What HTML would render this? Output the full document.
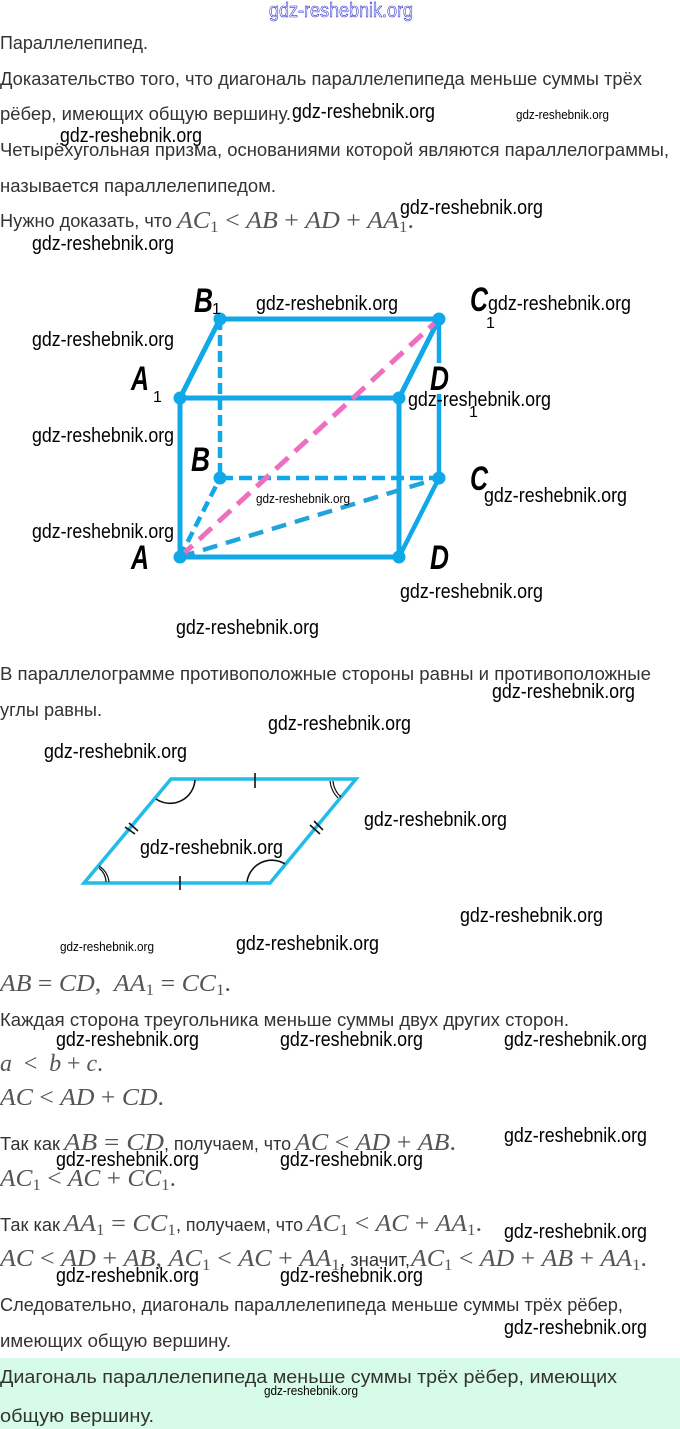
<!DOCTYPE html>
<html lang="ru"><head><meta charset="utf-8">
<style>
html,body{margin:0;padding:0;background:#fff;width:680px;height:1429px;overflow:hidden}
svg{display:block}
.t{font:18px "Liberation Sans",sans-serif;fill:#333}
.m{font:italic 24px "Liberation Serif",serif;fill:#555}
.m tspan[font-size]{font-size:16px}
.w{font:20px "Liberation Sans",sans-serif;fill:#000;transform:translateY(1px)}
.s{font:13px "Liberation Sans",sans-serif;fill:#000}
.l{font:italic bold 34px "Liberation Sans",sans-serif;fill:#000}
.i{font:16px "Liberation Sans",sans-serif;fill:#000}
</style></head><body>
<svg width="680" height="1429" viewBox="0 0 680 1429" xmlns="http://www.w3.org/2000/svg">
<rect width="680" height="1429" fill="#fff"/>
<rect y="1358" width="680" height="71" fill="#d6fbe7"/>

<text x="269" y="17" font-family="Liberation Sans" font-size="20" fill="#fff" stroke="#2d2dd0" stroke-width=".6" textLength="144" lengthAdjust="spacingAndGlyphs">gdz-reshebnik.org</text>

<text class="t" x="0" y="49" textLength="148" lengthAdjust="spacingAndGlyphs">Параллелепипед.</text>
<text class="t" x="0" y="85" textLength="642" lengthAdjust="spacingAndGlyphs">Доказательство того, что диагональ параллелепипеда меньше суммы трёх</text>
<text class="t" x="0" y="120" textLength="291" lengthAdjust="spacingAndGlyphs">рёбер, имеющих общую вершину.</text>
<text class="t" x="0" y="156" textLength="669" lengthAdjust="spacingAndGlyphs">Четырёхугольная призма, основаниями которой являются параллелограммы,</text>
<text class="t" x="0" y="192" textLength="276" lengthAdjust="spacingAndGlyphs">называется параллелепипедом.</text>
<text class="t" x="0" y="227" textLength="172" lengthAdjust="spacingAndGlyphs">Нужно доказать, что</text>
<text class="m" x="177" y="228" textLength="237" lengthAdjust="spacingAndGlyphs">AC<tspan font-size="14" dy="4" font-style="normal">1</tspan><tspan dy="-4" font-style="normal"> &lt; </tspan>AB<tspan font-style="normal"> + </tspan>AD<tspan font-style="normal"> + </tspan>AA<tspan font-size="14" dy="4" font-style="normal">1</tspan><tspan dy="-4" font-style="normal">.</tspan></text>

<!-- parallelepiped -->
<g fill="none" stroke="#10a8e8" stroke-width="5">
<path d="M180 398V557H399V398H180L220 319H439L399 398"/>
<path d="M439 319V478" stroke-width="4.5"/>
<path d="M399 557L439 478" stroke-width="4.5"/>
<path d="M220 319V478" stroke-dasharray="11 5" stroke-width="4.5"/>
<path d="M220 478H439" stroke-dasharray="13 6" stroke-width="4.5"/>
<path d="M180 557L220 478" stroke-dasharray="11 6" stroke-width="4.5"/>
<path d="M180 557L439 478" stroke-dasharray="15 9" stroke-width="4.5" stroke="#20a4dc"/>
<path d="M180 557L439 319" stroke="#ee6fc0" stroke-dasharray="17 9" stroke-width="5"/>
</g>
<g fill="#10a8e8">
<circle cx="180" cy="398" r="6.5"/><circle cx="220" cy="319" r="6.5"/><circle cx="439" cy="319" r="6.5"/><circle cx="399" cy="398" r="6.5"/>
<circle cx="220" cy="478" r="6.5"/><circle cx="439" cy="478" r="6.5"/><circle cx="180" cy="557" r="6.5"/><circle cx="399" cy="557" r="6.5"/>
</g>
<rect x="428" y="363" width="24" height="31" fill="#fff"/>
<text class="l" x="194" y="312" textLength="19" lengthAdjust="spacingAndGlyphs">B</text><text class="i" x="212" y="314">1</text>
<text class="l" x="470" y="311" textLength="18" lengthAdjust="spacingAndGlyphs">C</text><text class="i" x="486" y="328">1</text>
<text class="l" x="131" y="390" textLength="18" lengthAdjust="spacingAndGlyphs">A</text><text class="i" x="153" y="402">1</text>
<text class="l" x="430" y="390" textLength="19" lengthAdjust="spacingAndGlyphs">D</text><text class="i" x="469" y="417">1</text>
<text class="l" x="191" y="471" textLength="19" lengthAdjust="spacingAndGlyphs">B</text>
<text class="l" x="470" y="490" textLength="18" lengthAdjust="spacingAndGlyphs">C</text>
<text class="l" x="131" y="569" textLength="18" lengthAdjust="spacingAndGlyphs">A</text>
<text class="l" x="430" y="569" textLength="19" lengthAdjust="spacingAndGlyphs">D</text>

<text class="t" x="0" y="680" textLength="651" lengthAdjust="spacingAndGlyphs">В параллелограмме противоположные стороны равны и противоположные</text>
<text class="t" x="0" y="716" textLength="102" lengthAdjust="spacingAndGlyphs">углы равны.</text>

<!-- parallelogram -->
<path d="M84 883L171 779H356L270 883Z" fill="none" stroke="#22bce8" stroke-width="3.5"/>
<g fill="none" stroke="#111" stroke-width="1.6">
<path d="M255 773V788M180 876V890"/>
<path d="M125 827L135 834M129 823L138 831"/>
<path d="M310 825L320 834M314 821L323 830"/>
<path d="M195 780A25 25 0 0 1 156 799"/>
<path d="M247 882A25 25 0 0 1 285 864"/>
<path d="M330 781A28 28 0 0 0 338 798M333 781A24 24 0 0 0 341 797" stroke-width="1.2"/>
<path d="M99 866A22 22 0 0 1 109 882M99 868A19 19 0 0 1 106 882" stroke-width="1.2"/>
</g>

<text class="m" x="0" y="991" textLength="231" lengthAdjust="spacingAndGlyphs">AB<tspan font-style="normal"> = </tspan>CD<tspan font-style="normal">,&#160;&#160;</tspan>AA<tspan font-size="14" dy="4" font-style="normal">1</tspan><tspan dy="-4" font-style="normal"> = </tspan>CC<tspan font-size="14" dy="4" font-style="normal">1</tspan><tspan dy="-4" font-style="normal">.</tspan></text>
<text class="t" x="0" y="1026" textLength="569" lengthAdjust="spacingAndGlyphs">Каждая сторона треугольника меньше суммы двух других сторон.</text>
<text class="m" x="0" y="1071" textLength="103" lengthAdjust="spacingAndGlyphs">a<tspan font-style="normal">&#160;&#160;&lt;&#160;&#160;</tspan>b<tspan font-style="normal"> + </tspan>c<tspan font-style="normal">.</tspan></text>
<text class="m" x="0" y="1105" textLength="164" lengthAdjust="spacingAndGlyphs">AC<tspan font-style="normal"> &lt; </tspan>AD<tspan font-style="normal"> + </tspan>CD<tspan font-style="normal">.</tspan></text>
<text class="t" x="0" y="1150" textLength="60" lengthAdjust="spacingAndGlyphs">Так как</text>
<text class="m" x="64" y="1150" textLength="100" lengthAdjust="spacingAndGlyphs">AB<tspan font-style="normal"> = </tspan>CD</text>
<text class="t" x="164" y="1150" textLength="127" lengthAdjust="spacingAndGlyphs">, получаем, что</text>
<text class="m" x="295" y="1150" textLength="161" lengthAdjust="spacingAndGlyphs">AC<tspan font-style="normal"> &lt; </tspan>AD<tspan font-style="normal"> + </tspan>AB<tspan font-style="normal">.</tspan></text>
<text class="m" x="0" y="1186" textLength="176" lengthAdjust="spacingAndGlyphs">AC<tspan font-size="14" dy="4" font-style="normal">1</tspan><tspan dy="-4" font-style="normal"> &lt; </tspan>AC<tspan font-style="normal"> + </tspan>CC<tspan font-size="14" dy="4" font-style="normal">1</tspan><tspan dy="-4" font-style="normal">.</tspan></text>

<text class="t" x="0" y="1231" textLength="60" lengthAdjust="spacingAndGlyphs">Так как</text>
<text class="m" x="64" y="1231" textLength="112" lengthAdjust="spacingAndGlyphs">AA<tspan font-size="14" dy="4" font-style="normal">1</tspan><tspan dy="-4" font-style="normal"> = </tspan>CC<tspan font-size="14" dy="4" font-style="normal">1</tspan></text>
<text class="t" x="176" y="1231" textLength="127" lengthAdjust="spacingAndGlyphs">, получаем, что</text>
<text class="m" x="307" y="1231" textLength="175" lengthAdjust="spacingAndGlyphs">AC<tspan font-size="14" dy="4" font-style="normal">1</tspan><tspan dy="-4" font-style="normal"> &lt; </tspan>AC<tspan font-style="normal"> + </tspan>AA<tspan font-size="14" dy="4" font-style="normal">1</tspan><tspan dy="-4" font-style="normal">.</tspan></text>
<text class="m" x="0" y="1266" textLength="340" lengthAdjust="spacingAndGlyphs">AC<tspan font-style="normal"> &lt; </tspan>AD<tspan font-style="normal"> + </tspan>AB<tspan font-style="normal">, </tspan>AC<tspan font-size="14" dy="4" font-style="normal">1</tspan><tspan dy="-4" font-style="normal"> &lt; </tspan>AC<tspan font-style="normal"> + </tspan>AA<tspan font-size="14" dy="4" font-style="normal">1</tspan></text>
<text class="t" x="340" y="1266" textLength="70" lengthAdjust="spacingAndGlyphs">, значит,</text>
<text class="m" x="411" y="1266" textLength="236" lengthAdjust="spacingAndGlyphs">AC<tspan font-size="14" dy="4" font-style="normal">1</tspan><tspan dy="-4" font-style="normal"> &lt; </tspan>AD<tspan font-style="normal"> + </tspan>AB<tspan font-style="normal"> + </tspan>AA<tspan font-size="14" dy="4" font-style="normal">1</tspan><tspan dy="-4" font-style="normal">.</tspan></text>
<text class="t" x="0" y="1311" textLength="623" lengthAdjust="spacingAndGlyphs">Следовательно, диагональ параллелепипеда меньше суммы трёх рёбер,</text>
<text class="t" x="0" y="1347" textLength="231" lengthAdjust="spacingAndGlyphs">имеющих общую вершину.</text>
<text class="t" x="0" y="1383" textLength="617" lengthAdjust="spacingAndGlyphs">Диагональ параллелепипеда меньше суммы трёх рёбер, имеющих</text>
<text class="t" x="0" y="1422" textLength="154" lengthAdjust="spacingAndGlyphs">общую вершину.</text>

<!-- watermarks -->
<g class="wm">
<text class="w" x="292" y="117" textLength="143" lengthAdjust="spacingAndGlyphs">gdz-reshebnik.org</text>
<text class="w" x="60" y="141" textLength="142" lengthAdjust="spacingAndGlyphs">gdz-reshebnik.org</text>
<text class="w" x="400" y="213" textLength="143" lengthAdjust="spacingAndGlyphs">gdz-reshebnik.org</text>
<text class="w" x="32" y="249" textLength="142" lengthAdjust="spacingAndGlyphs">gdz-reshebnik.org</text>
<text class="w" x="256" y="309" textLength="142" lengthAdjust="spacingAndGlyphs">gdz-reshebnik.org</text>
<text class="w" x="488" y="309" textLength="143" lengthAdjust="spacingAndGlyphs">gdz-reshebnik.org</text>
<text class="w" x="32" y="345" textLength="142" lengthAdjust="spacingAndGlyphs">gdz-reshebnik.org</text>
<text class="w" x="408" y="405" textLength="143" lengthAdjust="spacingAndGlyphs">gdz-reshebnik.org</text>
<text class="w" x="32" y="441" textLength="142" lengthAdjust="spacingAndGlyphs">gdz-reshebnik.org</text>
<text class="w" x="484" y="501" textLength="143" lengthAdjust="spacingAndGlyphs">gdz-reshebnik.org</text>
<text class="w" x="32" y="537" textLength="142" lengthAdjust="spacingAndGlyphs">gdz-reshebnik.org</text>
<text class="w" x="400" y="597" textLength="143" lengthAdjust="spacingAndGlyphs">gdz-reshebnik.org</text>
<text class="w" x="176" y="633" textLength="143" lengthAdjust="spacingAndGlyphs">gdz-reshebnik.org</text>
<text class="w" x="492" y="697" textLength="143" lengthAdjust="spacingAndGlyphs">gdz-reshebnik.org</text>
<text class="w" x="268" y="729" textLength="143" lengthAdjust="spacingAndGlyphs">gdz-reshebnik.org</text>
<text class="w" x="44" y="757" textLength="143" lengthAdjust="spacingAndGlyphs">gdz-reshebnik.org</text>
<text class="w" x="364" y="825" textLength="143" lengthAdjust="spacingAndGlyphs">gdz-reshebnik.org</text>
<text class="w" x="140" y="853" textLength="143" lengthAdjust="spacingAndGlyphs">gdz-reshebnik.org</text>
<text class="w" x="460" y="921" textLength="143" lengthAdjust="spacingAndGlyphs">gdz-reshebnik.org</text>
<text class="w" x="236" y="949" textLength="143" lengthAdjust="spacingAndGlyphs">gdz-reshebnik.org</text>
<text class="w" x="56" y="1045" textLength="143" lengthAdjust="spacingAndGlyphs">gdz-reshebnik.org</text>
<text class="w" x="280" y="1045" textLength="143" lengthAdjust="spacingAndGlyphs">gdz-reshebnik.org</text>
<text class="w" x="504" y="1045" textLength="143" lengthAdjust="spacingAndGlyphs">gdz-reshebnik.org</text>
<text class="w" x="504" y="1141" textLength="143" lengthAdjust="spacingAndGlyphs">gdz-reshebnik.org</text>
<text class="w" x="56" y="1165" textLength="143" lengthAdjust="spacingAndGlyphs">gdz-reshebnik.org</text>
<text class="w" x="280" y="1165" textLength="143" lengthAdjust="spacingAndGlyphs">gdz-reshebnik.org</text>
<text class="w" x="504" y="1237" textLength="143" lengthAdjust="spacingAndGlyphs">gdz-reshebnik.org</text>
<text class="w" x="56" y="1281" textLength="143" lengthAdjust="spacingAndGlyphs">gdz-reshebnik.org</text>
<text class="w" x="280" y="1281" textLength="143" lengthAdjust="spacingAndGlyphs">gdz-reshebnik.org</text>
<text class="w" x="504" y="1333" textLength="143" lengthAdjust="spacingAndGlyphs">gdz-reshebnik.org</text>
<text class="s" x="516" y="119" textLength="93" lengthAdjust="spacingAndGlyphs">gdz-reshebnik.org</text>
<text class="s" x="256" y="503" textLength="94" lengthAdjust="spacingAndGlyphs">gdz-reshebnik.org</text>
<text class="s" x="60" y="951" textLength="94" lengthAdjust="spacingAndGlyphs">gdz-reshebnik.org</text>
<text class="s" x="264" y="1395" textLength="94" lengthAdjust="spacingAndGlyphs">gdz-reshebnik.org</text>
</g>
</svg>
</body></html>
